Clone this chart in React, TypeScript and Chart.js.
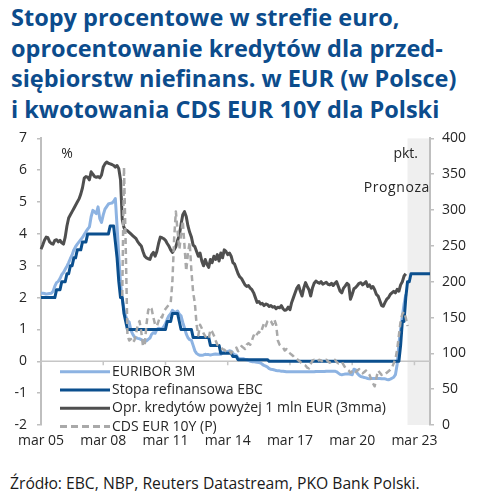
import React, { useEffect, useRef } from 'react';
import { Chart, registerables } from 'chart.js';

Chart.register(...registerables);

// ---------- DATA ----------
const MONTH_NAMES = ['sty', 'lut', 'mar', 'kwi', 'maj', 'cze', 'lip', 'sie', 'wrz', 'paź', 'lis', 'gru'];
const START_YEAR = 2005;
const START_MONTH = 2; // March
const N_MONTHS = 226; // Mar 2005 .. Dec 2023
const CATEGORIES: string[] = Array.from({ length: N_MONTHS }, (_, i) => {
  const t = START_MONTH + i;
  const yy = (START_YEAR + Math.floor(t / 12)) % 100;
  return MONTH_NAMES[t % 12] + ' ' + String(yy).padStart(2, '0');
});
const X_TICK_LABELS = ['mar 05', 'mar 08', 'mar 11', 'mar 14', 'mar 17', 'mar 20', 'mar 23'];
const FORECAST_START = 'lis 22';

const LEFT_TICKS = { min: -2, max: 7, step: 1 };
const RIGHT_TICKS = { min: 0, max: 400, step: 50 };

// EURIBOR 3M, % (Mar 2005 .. Oct 2022)
const EURIBOR_3M = [
  2.14, 2.14, 2.13, 2.11, 2.12, 2.13, 2.14, 2.2, 2.36, 2.47,
  2.51, 2.6, 2.72, 2.79, 2.89, 2.99, 3.1, 3.23, 3.34, 3.5, 3.6, 3.68,
  3.75, 3.82, 3.89, 3.98, 4.07, 4.15, 4.22, 4.54, 4.74, 4.69, 4.64, 4.85,
  4.48, 4.36, 4.6, 4.78, 4.86, 4.94, 4.96, 4.97, 5.02, 5.11, 4.24, 3.29,
  2.46, 1.94, 1.64, 1.42, 1.28, 1.23, 0.97, 0.86, 0.77, 0.74, 0.72, 0.71,
  0.68, 0.66, 0.64, 0.64, 0.69, 0.73, 0.85, 0.9, 0.88, 1.0, 1.04, 1.02,
  1.02, 1.09, 1.18, 1.32, 1.43, 1.49, 1.6, 1.55, 1.54, 1.58, 1.48, 1.43,
  1.22, 1.05, 0.86, 0.74, 0.68, 0.66, 0.5, 0.33, 0.25, 0.21, 0.19, 0.19,
  0.2, 0.22, 0.21, 0.21, 0.2, 0.21, 0.22, 0.23, 0.22, 0.23, 0.22, 0.27,
  0.29, 0.29, 0.31, 0.33, 0.32, 0.24, 0.21, 0.19, 0.1, 0.08, 0.08, 0.08,
  0.06, 0.05, 0.03, 0.0, -0.01, -0.01, -0.02, -0.03, -0.04, -0.05, -0.09, -0.13,
  -0.15, -0.18, -0.23, -0.25, -0.26, -0.27, -0.29, -0.3, -0.3, -0.31, -0.31, -0.32,
  -0.33, -0.33, -0.33, -0.33, -0.33, -0.33, -0.33, -0.33, -0.33, -0.33, -0.33, -0.33,
  -0.33, -0.33, -0.33, -0.33, -0.33, -0.32, -0.32, -0.32, -0.32, -0.32, -0.32, -0.31,
  -0.31, -0.31, -0.31, -0.31, -0.31, -0.33, -0.37, -0.41, -0.42, -0.41, -0.4, -0.4,
  -0.39, -0.41, -0.42, -0.25, -0.27, -0.38, -0.44, -0.48, -0.49, -0.51, -0.52, -0.54,
  -0.55, -0.54, -0.54, -0.54, -0.54, -0.54, -0.54, -0.55, -0.55, -0.55, -0.57, -0.58,
  -0.56, -0.53, -0.5, -0.42, -0.1, 0.55, 1.0, 1.4, 1.8, 2.1,
];

// Stopa refinansowa EBC, % (Mar 2005 .. Dec 2023, forecast from Nov 2022)
const ECB_REFI = [
  2, 2, 2, 2, 2, 2, 2, 2, 2, 2.25,
  2.25, 2.25, 2.5, 2.5, 2.5, 2.75, 2.75, 3, 3, 3.25, 3.25, 3.5,
  3.5, 3.5, 3.75, 3.75, 3.75, 4, 4, 4, 4, 4, 4, 4,
  4, 4, 4, 4, 4, 4, 4.25, 4.25, 4.25, 3.75, 3.25, 2.5,
  2, 2, 1.5, 1.25, 1, 1, 1, 1, 1, 1, 1, 1,
  1, 1, 1, 1, 1, 1, 1, 1, 1, 1, 1, 1,
  1, 1, 1, 1.25, 1.25, 1.25, 1.5, 1.5, 1.5, 1.5, 1.25, 1,
  1, 1, 1, 1, 1, 1, 0.75, 0.75, 0.75, 0.75, 0.75, 0.75,
  0.75, 0.75, 0.75, 0.75, 0.5, 0.5, 0.5, 0.5, 0.5, 0.5, 0.25, 0.25,
  0.25, 0.25, 0.25, 0.25, 0.25, 0.15, 0.15, 0.15, 0.05, 0.05, 0.05, 0.05,
  0.05, 0.05, 0.05, 0.05, 0.05, 0.05, 0.05, 0.05, 0.05, 0.05, 0.05, 0.05,
  0.05, 0.05, 0, 0, 0, 0, 0, 0, 0, 0, 0, 0,
  0, 0, 0, 0, 0, 0, 0, 0, 0, 0, 0, 0,
  0, 0, 0, 0, 0, 0, 0, 0, 0, 0, 0, 0,
  0, 0, 0, 0, 0, 0, 0, 0, 0, 0, 0, 0,
  0, 0, 0, 0, 0, 0, 0, 0, 0, 0, 0, 0,
  0, 0, 0, 0, 0, 0, 0, 0, 0, 0, 0, 0,
  0, 0, 0, 0, 0, 0, 0.5, 1.25, 1.25, 2, 2.5, 2.5,
  2.75, 2.75, 2.75, 2.75, 2.75, 2.75, 2.75, 2.75, 2.75, 2.75, 2.75, 2.75,
];

// Oprocentowanie kredytów powyżej 1 mln EUR (3mma), % (Mar 2005 .. Oct 2022)
const LOAN_RATE = [
  3.52, 3.65, 3.8, 3.9, 3.88, 3.75, 3.7, 3.68, 3.8, 3.82,
  3.75, 3.8, 3.72, 3.68, 3.9, 4.25, 4.5, 4.6, 4.7, 4.8, 4.9, 5.0,
  5.1, 5.25, 5.45, 5.75, 5.8, 5.78, 5.7, 5.95, 5.88, 5.8, 5.78, 5.8,
  5.76, 5.85, 6.1, 6.2, 6.26, 6.22, 6.2, 6.18, 6.15, 6.1, 6.15, 6.05,
  5.7, 4.45, 4.2, 4.12, 4.1, 4.05, 4.0, 3.95, 3.9, 3.85, 3.75, 3.68,
  3.62, 3.45, 3.3, 3.25, 3.22, 3.2, 3.35, 3.42, 3.3, 3.45, 3.7, 3.9,
  3.88, 3.85, 3.8, 3.7, 3.62, 3.5, 3.42, 3.5, 3.6, 3.8, 3.95, 4.3,
  4.6, 4.7, 4.55, 4.25, 4.05, 3.9, 3.65, 3.6, 3.45, 3.3, 3.4, 3.15,
  3.0, 3.2, 3.05, 2.95, 3.2, 3.1, 3.3, 3.2, 3.35, 3.15, 3.4, 3.25,
  3.5, 3.45, 3.35, 3.4, 3.3, 3.1, 3.05, 2.9, 2.75, 2.65, 2.6, 2.5,
  2.4, 2.35, 2.38, 2.3, 2.25, 2.15, 2.0, 1.85, 1.88, 1.8, 1.82, 1.75,
  1.8, 1.78, 1.72, 1.75, 1.7, 1.72, 1.65, 1.7, 1.68, 1.75, 1.65, 1.6,
  1.62, 1.7, 1.62, 1.85, 2.0, 2.15, 2.3, 2.38, 2.2, 2.05, 2.3, 2.47,
  2.35, 2.25, 2.05, 2.3, 2.45, 2.52, 2.48, 2.45, 2.5, 2.42, 2.45, 2.48,
  2.42, 2.4, 2.45, 2.38, 2.45, 2.5, 2.35, 2.2, 2.15, 2.3, 2.37, 2.45,
  2.4, 1.95, 2.1, 2.28, 2.32, 2.38, 2.45, 2.47, 2.4, 2.45, 2.5, 2.35,
  2.4, 2.3, 2.35, 2.25, 2.1, 2.05, 1.9, 1.75, 1.73, 1.85, 1.95, 2.0,
  2.1, 2.15, 2.2, 2.15, 2.26, 2.2, 2.4, 2.5, 2.68, 2.75,
];

// CDS EUR 10Y Polska, pkt. (right axis), from Feb 2009 .. Nov 2022
const CDS_START = 'lut 09';
const CDS_10Y = [
  180, 360, 250, 125, 118, 120, 115, 118, 128, 140, 145,
  130, 110, 112, 140, 160, 165, 162, 150, 140, 138, 145, 152,
  150, 158, 162, 165, 168, 170, 200, 260, 298, 270, 245, 265,
  285, 250, 215, 240, 255, 215, 185, 170, 140, 125, 140, 135,
  128, 124, 120, 121, 133, 130, 125, 118, 112, 110, 108, 106,
  105, 103, 102, 104, 100, 104, 106, 108, 103, 106, 110, 108,
  106, 112, 114, 112, 118, 125, 122, 127, 130, 128, 135, 142,
  138, 145, 147, 145, 140, 147, 140, 118, 112, 110, 108, 104,
  106, 102, 100, 98, 96, 93, 92, 90, 88, 86, 84, 83,
  80, 79, 85, 90, 91, 90, 89, 91, 90, 88, 89, 91,
  89, 87, 88, 90, 91, 88, 86, 87, 88, 84, 80, 78,
  76, 73, 75, 77, 74, 76, 78, 74, 72, 74, 76, 73,
  70, 64, 58, 54, 66, 76, 73, 70, 72, 71, 73, 75,
  77, 80, 86, 92, 105, 125, 145, 155, 158, 150, 138,
];

const SERIES_NAMES = ['EURIBOR 3M', 'Stopa refinansowa EBC', 'Opr. kredytów powyżej 1 mln EUR (3mma)', 'CDS EUR 10Y (P)'];
const SERIES_COLORS = ['#8db3e2', '#0b4f8e', '#4f4f4f', '#a9a9a9'];

// ---------- RENDER ----------
const FONT = "'Open Sans', 'DejaVu Sans', sans-serif";

const padSeries = (values: number[], startLabel: string): (number | null)[] => {
  const start = CATEGORIES.indexOf(startLabel);
  const out: (number | null)[] = new Array(N_MONTHS).fill(null);
  values.forEach((v, i) => {
    if (start + i < N_MONTHS) out[start + i] = v;
  });
  return out;
};

const decorPlugin = {
  id: 'decor',
  beforeDraw(chart: any) {
    const { ctx, chartArea: a, scales } = chart;
    const x0 = scales.x.getPixelForValue(CATEGORIES.indexOf(FORECAST_START));
    ctx.save();
    ctx.fillStyle = '#efefef';
    ctx.fillRect(x0, a.top, a.right - x0, a.bottom - a.top);
    ctx.restore();
  },
  beforeDatasetsDraw(chart: any) {
    const { ctx, chartArea: a, scales } = chart;
    const y0 = scales.y.getPixelForValue(0);
    ctx.save();
    ctx.strokeStyle = '#c6c6c6';
    ctx.lineWidth = 1.5;
    ctx.beginPath();
    ctx.moveTo(a.left, y0);
    ctx.lineTo(a.right, y0);
    X_TICK_LABELS.forEach((l) => {
      const x = scales.x.getPixelForValue(CATEGORIES.indexOf(l));
      ctx.moveTo(x, y0);
      ctx.lineTo(x, y0 + 4);
    });
    ctx.stroke();
    ctx.restore();
  },
  afterDraw(chart: any) {
    const { ctx, chartArea: a } = chart;
    ctx.save();
    ctx.fillStyle = '#262626';
    ctx.textBaseline = 'middle';
    ctx.font = `14px ${FONT}`;
    ctx.textAlign = 'center';
    ctx.fillText('%', a.left + 26, a.top + 16);
    ctx.textAlign = 'right';
    ctx.fillText('pkt.', a.right - 12, a.top + 16);
    (ctx as any).letterSpacing = '0.6px';
    ctx.fillText('Prognoza', a.right, a.top + 50);
    (ctx as any).letterSpacing = '0px';

    // legend
    ctx.textAlign = 'left';
    ctx.font = `14px ${FONT}`;
    const lx0 = a.left + 19;
    const lx1 = a.left + 69;
    SERIES_NAMES.forEach((name, i) => {
      const y = a.bottom - 53.3 + i * 18.3;
      ctx.beginPath();
      ctx.strokeStyle = SERIES_COLORS[i];
      ctx.lineWidth = 3;
      ctx.setLineDash(i === 3 ? [7, 4] : []);
      ctx.moveTo(lx0, y);
      ctx.lineTo(lx1, y);
      ctx.stroke();
      ctx.setLineDash([]);
      ctx.fillStyle = '#262626';
      ctx.fillText(name, lx1 + 2, y);
    });
    ctx.restore();
  },
};

export default function App() {
  const canvasRef = useRef<HTMLCanvasElement | null>(null);

  useEffect(() => {
    if (!canvasRef.current) return;
    Chart.defaults.font.family = FONT;
    const chart = new Chart(canvasRef.current, {
      type: 'line',
      data: {
        labels: CATEGORIES,
        datasets: [
          {
            label: SERIES_NAMES[0],
            data: padSeries(EURIBOR_3M, CATEGORIES[0]),
            borderColor: SERIES_COLORS[0],
            borderWidth: 3,
            yAxisID: 'y',
            order: 4,
          },
          {
            label: SERIES_NAMES[1],
            data: padSeries(ECB_REFI, CATEGORIES[0]),
            borderColor: SERIES_COLORS[1],
            borderWidth: 3,
            yAxisID: 'y',
            order: 3,
          },
          {
            label: SERIES_NAMES[2],
            data: padSeries(LOAN_RATE, CATEGORIES[0]),
            borderColor: SERIES_COLORS[2],
            borderWidth: 3,
            yAxisID: 'y',
            order: 2,
          },
          {
            label: SERIES_NAMES[3],
            data: padSeries(CDS_10Y, CDS_START),
            borderColor: SERIES_COLORS[3],
            borderWidth: 2.5,
            borderDash: [6, 4],
            yAxisID: 'y1',
            order: 1,
          },
        ],
      },
      options: {
        animation: false,
        responsive: false,
        maintainAspectRatio: false,
        layout: { padding: { top: 17, left: 0, right: 0, bottom: 0 } },
        elements: { point: { radius: 0 }, line: { tension: 0, borderCapStyle: 'butt', borderJoinStyle: 'round' } },
        plugins: { legend: { display: false }, tooltip: { enabled: false }, title: { display: false } },
        scales: {
          x: {
            type: 'category',
            offset: false,
            grid: { display: false, drawTicks: false },
            border: { display: false },
            ticks: {
              autoSkip: false,
              maxRotation: 0,
              minRotation: 0,
              padding: 8,
              color: '#262626',
              font: { size: 14, family: FONT },
              callback: (_v: any, i: number) => (X_TICK_LABELS.includes(CATEGORIES[i]) ? CATEGORIES[i] : null),
            },
            afterFit: (s: any) => {
              s.height = 35;
            },
          },
          y: {
            position: 'left',
            min: LEFT_TICKS.min,
            max: LEFT_TICKS.max,
            grid: { drawOnChartArea: false, drawTicks: true, tickLength: 4, color: '#bfbfbf', lineWidth: 1.5 },
            border: { display: true, color: '#bfbfbf', width: 2 },
            ticks: { stepSize: LEFT_TICKS.step, padding: 10, color: '#262626', font: { size: 14, family: FONT } },
            afterFit: (s: any) => {
              s.width = 41;
            },
          },
          y1: {
            position: 'right',
            min: RIGHT_TICKS.min,
            max: RIGHT_TICKS.max,
            grid: { drawOnChartArea: false, drawTicks: true, tickLength: 4, color: '#bfbfbf', lineWidth: 1.5 },
            border: { display: true, color: '#bfbfbf', width: 2 },
            ticks: { stepSize: RIGHT_TICKS.step, padding: 8, color: '#262626', font: { size: 14, family: FONT } },
            afterFit: (s: any) => {
              s.width = 52;
            },
          },
        },
      },
      plugins: [decorPlugin],
    } as any);
    return () => chart.destroy();
  }, []);

  return (
    <div style={{ position: 'absolute', left: 0, top: 0, width: 482, height: 499, background: '#fff', overflow: 'hidden' }}>
      <div
        style={{
          position: 'absolute',
          left: 11,
          top: 2,
          fontFamily: FONT,
          fontWeight: 700,
          fontSize: 23.5,
          lineHeight: '30.5px',
          color: '#0c4c8c',
          whiteSpace: 'nowrap',
        }}
      >
        Stopy procentowe w strefie euro,
        <br />
        oprocentowanie kredytów dla przed-
        <br />
        siębiorstw niefinans. w EUR (w Polsce)
        <br />i kwotowania CDS EUR 10Y dla Polski
      </div>
      <div style={{ position: 'absolute', left: 0, top: 120, width: 482, height: 340 }}>
        <canvas ref={canvasRef} width={482} height={340} style={{ display: 'block' }} />
      </div>
      <div
        style={{
          position: 'absolute',
          left: 10,
          top: 472,
          fontFamily: FONT,
          fontSize: 15.7,
          color: '#1a1a1a',
          whiteSpace: 'nowrap',
          lineHeight: '22px',
        }}
      >
        Źródło: EBC, NBP, Reuters Datastream, PKO Bank Polski.
      </div>
    </div>
  );
}
